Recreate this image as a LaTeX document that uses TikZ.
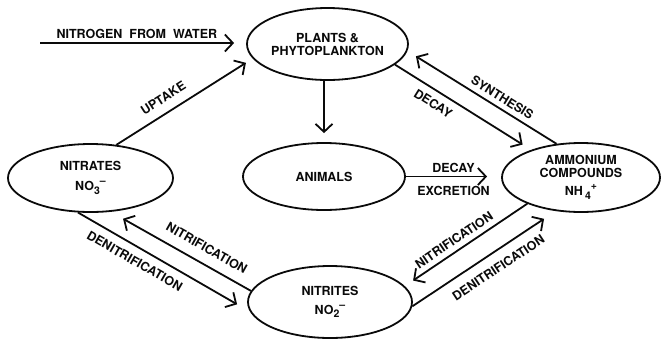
\documentclass[tikz,border=0pt]{standalone}
\usepackage{fontspec}
\setmainfont{TeX Gyre Heros}
\usetikzlibrary{arrows.meta,shapes.geometric}
\definecolor{ink}{RGB}{10,10,10}
\newcommand{\ion}[3]{#1\raisebox{-0.5ex}{\fontsize{10.5}{10.5}\selectfont #2}\raisebox{0.9ex}{\fontsize{10.5}{10.5}\selectfont #3}}
\tikzset{
  every picture/.style={color=ink, line width=1.8pt, font=\fontsize{12.5}{13}\selectfont\bfseries},
  pool/.style={draw=ink, ellipse, inner sep=0pt, align=center},
  flow/.style={-{Straight Barb[length=8pt,width=17pt]}, line width=1.8pt},
  lbl/.style={font=\fontsize{12.5}{13}\selectfont\bfseries, inner sep=2pt},
}

\begin{document}
\begin{tikzpicture}[x=1pt, y=-1pt]
  \useasboundingbox (0,0) rectangle (662,341);
  % pools
  \node[pool, minimum width=161pt, minimum height=72pt] (plants) at (327.5,44) {PLANTS \&\\PHYTOPLANKTON};
  \node[pool, minimum width=165pt, minimum height=68pt] (nitrates) at (90.5,178) {NITRATES\\[7pt]\ion{NO}{3}{--}};
  \node[pool, minimum width=162pt, minimum height=67pt] (animals) at (324,176.5) {ANIMALS};
  \node[pool, minimum width=158pt, minimum height=69pt] (ammonium) at (581,177.5) {AMMONIUM\\COMPOUNDS\\[5pt]\ion{NH\,}{4}{+}};
  \node[pool, minimum width=164pt, minimum height=72pt] (nitrites) at (330,302) {NITRITES\\[6pt]\ion{NO}{2}{--}};
  \coordinate (water) at (40,43);
  % flows
  \draw[flow, shorten >=12pt] (water) -- node[lbl, above=1pt, pos=.47]{NITROGEN\ \ FROM\ \ WATER} (plants.west |- water);
  \draw[flow, shorten >=8pt] (nitrates.52) -- node[lbl, sloped, above=7pt, pos=.4]{UPTAKE} (plants.191);
  \draw[flow, shorten >=9pt] (animals.north |- plants.south) -- (animals.north);
  \draw[flow, shorten >=10pt] (plants.343) -- node[lbl, sloped, below=5pt, pos=.33]{DECAY} (ammonium.151);
  \draw[flow, shorten >=10pt] (ammonium.126) -- node[lbl, sloped, above=3pt, pos=.4]{SYNTHESIS} (plants.-5.5);
  \draw[flow, shorten >=14pt] (animals.east) -- node[lbl, above=1pt]{DECAY} node[lbl, below=7pt]{EXCRETION} (animals.east -| ammonium.west);
  \draw[flow, shorten >=14pt] (nitrites.172.6) -- node[lbl, sloped, above=8pt, pos=.37]{NITRIFICATION} (nitrates.-59.7);
  \draw[flow, shorten >=15pt] (nitrates.250) -- node[lbl, sloped, below=6pt, pos=.37]{DENITRIFICATION} (nitrites.187);
  \draw[flow, shorten >=10pt] (ammonium.206.6) -- node[lbl, sloped, above=3pt, pos=.55]{NITRIFICATION} (nitrites.12.4);
  \draw[flow, shorten >=14pt] (nitrites.-3.7) -- node[lbl, sloped, below=8pt, pos=.54]{DENITRIFICATION} (ammonium.233.6);
\end{tikzpicture}
\end{document}
